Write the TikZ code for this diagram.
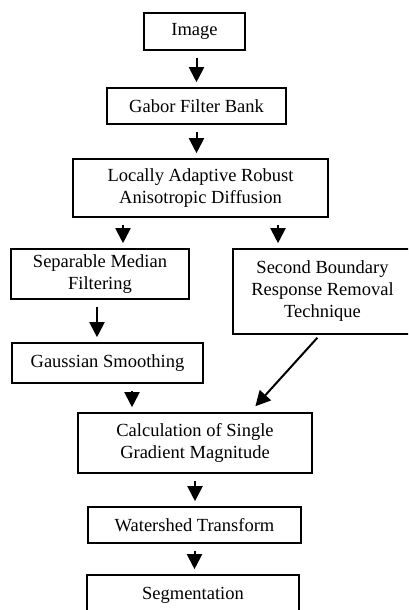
\documentclass[tikz,border=0pt]{standalone}
\usepackage{fontspec}
\setmainfont{Liberation Serif}
\usetikzlibrary{arrows.meta}
\begin{document}
\begin{tikzpicture}[
  x=1pt, y=-1pt,
  block/.style={rectangle, draw, line width=1.6pt, align=center, inner sep=0pt, font=\fontsize{18.5}{22}\selectfont},
  flow/.style={-{Triangle[width=15pt,length=15pt]}, line width=2pt, shorten <=7pt, shorten >=5pt}
]
\clip (0,0) rectangle (408,610);
\node[block, minimum width=101pt, minimum height=37pt] (img) at (194.5,31.5) {Image};
\node[block, minimum width=179pt, minimum height=36pt] (gabor) at (196.5,106) {Gabor Filter Bank};
\node[block, minimum width=255pt, minimum height=58pt] (larad) at (200.5,188) {Locally Adaptive Robust\\Anisotropic Diffusion};
\node[block, minimum width=178pt, minimum height=50pt] (median) at (100,274) {Separable Median\\Filtering};
\node[block, minimum width=179pt, minimum height=85pt] (sbrr) at (322.5,291.5) {Second Boundary\\Response Removal\\Technique};
\node[block, minimum width=191pt, minimum height=40pt] (gauss) at (107.5,363) {Gaussian Smoothing};
\node[block, minimum width=234pt, minimum height=60pt] (grad) at (195,443) {Calculation of Single\\Gradient Magnitude};
\node[block, minimum width=213pt, minimum height=36pt] (water) at (194.5,525) {Watershed Transform};
\node[block, minimum width=212pt, minimum height=40pt] (seg) at (193,595) {Segmentation};

\draw[flow] (gabor.north |- img.south) -- (gabor.north);
\draw[flow] (gabor.south) -- (gabor.south |- larad.north);
\draw[flow] ([xshift=-77.5pt]larad.south) -- ([xshift=-77.5pt]larad.south |- median.north);
\draw[flow] ([xshift=77.5pt]larad.south) -- ([xshift=77.5pt]larad.south |- sbrr.north);
\draw[flow] ([xshift=-3pt]median.south) -- ([xshift=-3pt]median.south |- gauss.north);
\draw[flow] ([xshift=24.5pt]gauss.south) -- ([xshift=24.5pt]gauss.south |- grad.north);
\draw[flow, shorten <=4pt, shorten >=8pt] ([xshift=-2.5pt]sbrr.south) -- ([xshift=55pt]grad.north);
\draw[flow] (grad.south) -- (grad.south |- water.north);
\draw[flow] (water.south) -- (water.south |- seg.north);
\end{tikzpicture}
\end{document}
